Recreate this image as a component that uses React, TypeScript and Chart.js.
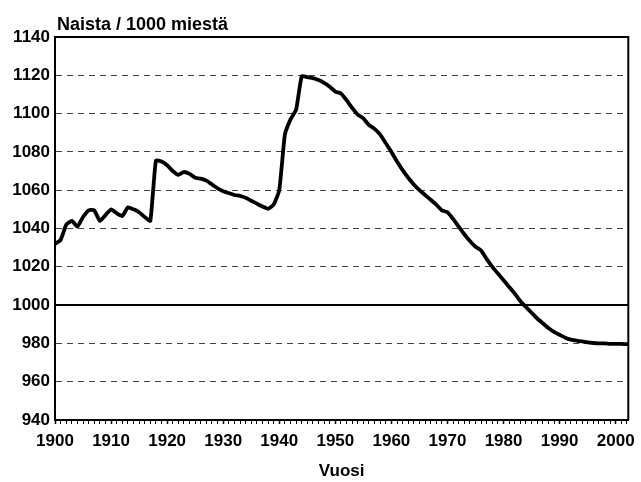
import { useEffect, useRef } from 'react';
import { Chart, registerables } from 'chart.js';

Chart.register(...registerables);

const FONT = '"Liberation Sans", Arial, sans-serif';

const chartTitle = 'Naista / 1000 miestä';
const xAxisTitle = 'Vuosi';

const years = [
  1900, 1901, 1902, 1903, 1904, 1905, 1906, 1907, 1908, 1909,
  1910, 1911, 1912, 1913, 1914, 1915, 1916, 1917, 1918, 1919,
  1920, 1921, 1922, 1923, 1924, 1925, 1926, 1927, 1928, 1929,
  1930, 1931, 1932, 1933, 1934, 1935, 1936, 1937, 1938, 1939,
  1940, 1941, 1942, 1943, 1944, 1945, 1946, 1947, 1948, 1949,
  1950, 1951, 1952, 1953, 1954, 1955, 1956, 1957, 1958, 1959,
  1960, 1961, 1962, 1963, 1964, 1965, 1966, 1967, 1968, 1969,
  1970, 1971, 1972, 1973, 1974, 1975, 1976, 1977, 1978, 1979,
  1980, 1981, 1982, 1983, 1984, 1985, 1986, 1987, 1988, 1989,
  1990, 1991, 1992, 1993, 1994, 1995, 1996, 1997, 1998, 1999,
  2000, 2001, 2002,
];

const womenPer1000Men = [
  1032, 1034, 1042, 1044, 1041, 1046, 1049.5, 1049.5, 1044, 1047,
  1050, 1048, 1046.5, 1051, 1050, 1048.5, 1046, 1044, 1075.5, 1075,
  1073, 1070, 1068, 1069.5, 1068.5, 1066.5, 1066, 1065, 1063, 1061,
  1059.5, 1058.5, 1057.5, 1057, 1056, 1054.5, 1053, 1051.5, 1050.3, 1052.5,
  1060, 1089, 1097, 1102, 1119.5, 1119, 1118.5, 1117.5, 1116, 1114,
  1111.5, 1110.5, 1107, 1103, 1099.5, 1097.5, 1094, 1092, 1089, 1084.5,
  1080, 1075, 1070.5, 1066.5, 1063, 1060, 1057.5, 1055, 1052.5, 1049.5,
  1048.5, 1045, 1041, 1037, 1033.5, 1030.5, 1028.5, 1024, 1020, 1016.5,
  1013, 1009.5, 1006, 1002, 999, 996, 993, 990.5, 988, 986,
  984.5, 983, 982, 981.5, 981, 980.5, 980.2, 980, 980, 979.8,
  979.8, 979.7, 979.6,
];

const yMin = 940;
const yMax = 1140;
const yStep = 20;
const referenceValue = 1000;
const xMin = 1900;
const xMax = 2002.25;
const xLabelStep = 10;

const framePlugin = {
  id: 'frameAndRef',
  beforeDatasetsDraw(chart: any) {
    const { ctx, chartArea } = chart;
    const { left, right, top, bottom } = chartArea;
    const yRef = chart.scales.y.getPixelForValue(referenceValue);
    ctx.save();
    ctx.strokeStyle = '#000';
    ctx.lineWidth = 2;
    ctx.beginPath();
    ctx.moveTo(left, yRef);
    ctx.lineTo(right, yRef);
    ctx.stroke();
    ctx.beginPath();
    ctx.moveTo(left, top);
    ctx.lineTo(right, top);
    ctx.lineTo(right, bottom);
    ctx.stroke();
    ctx.restore();
  },
  afterDraw(chart: any) {
    const { ctx, chartArea } = chart;
    ctx.save();
    ctx.fillStyle = '#000';
    ctx.font = `bold 18px ${FONT}`;
    ctx.textAlign = 'left';
    ctx.textBaseline = 'alphabetic';
    ctx.fillText(chartTitle, chartArea.left + 2, chartArea.top - 7.5);
    ctx.restore();
  },
};

export default function App() {
  const ref = useRef<HTMLCanvasElement | null>(null);

  useEffect(() => {
    if (!ref.current) return;
    const points = years.map((x, i) => ({ x, y: womenPer1000Men[i] }));
    const chart = new Chart(ref.current, {
      type: 'line',
      data: {
        datasets: [
          {
            data: points,
            borderColor: '#000',
            borderWidth: 3.8,
            pointRadius: 0,
            tension: 0.15,
            borderJoinStyle: 'round',
            borderCapStyle: 'round',
          },
        ],
      },
      options: {
        animation: false,
        responsive: false,
        layout: { padding: { left: 0, right: 12.7, top: 37, bottom: 0 } },
        plugins: { legend: { display: false }, tooltip: { enabled: false }, title: { display: false } },
        scales: {
          x: {
            type: 'linear',
            min: xMin,
            max: xMax,
            afterFit: (s: any) => { s.height = 62; },
            ticks: {
              stepSize: 1,
              autoSkip: false,
              includeBounds: false,
              maxRotation: 0,
              padding: 7,
              color: '#000',
              font: { family: FONT, size: 17, weight: 'bold' },
              callback: (v: any) => (Number(v) % xLabelStep === 0 ? String(v) : ''),
            },
            grid: {
              drawOnChartArea: false,
              drawTicks: true,
              tickLength: 4,
              tickColor: '#000',
              tickWidth: (c: any) => (c.tick && c.tick.value % xLabelStep === 0 ? 1.5 : 1),
            },
            border: { display: true, color: '#000', width: 2 },
            title: {
              display: true,
              text: xAxisTitle,
              color: '#000',
              font: { family: FONT, size: 17, weight: 'bold' },
              padding: { top: 0, bottom: 0 },
            },
          },
          y: {
            type: 'linear',
            min: yMin,
            max: yMax,
            afterFit: (s: any) => { s.width = 55; },
            ticks: {
              stepSize: yStep,
              padding: 5,
              color: '#000',
              font: { family: FONT, size: 17, weight: 'bold' },
              callback: (v: any) => String(v),
            },
            grid: {
              drawTicks: false,
              lineWidth: 1,
              color: (c: any) => {
                const v = c.tick ? c.tick.value : null;
                return v === yMin || v === yMax || v === referenceValue ? 'rgba(0,0,0,0)' : '#444';
              },
            },
            border: { display: true, color: '#000', width: 2, dash: [6, 5] },
          },
        },
      },
      plugins: [framePlugin],
    } as any);
    return () => chart.destroy();
  }, []);

  return (
    <div style={{ position: 'absolute', left: 0, top: 0, width: 641, height: 482, background: '#fff' }}>
      <canvas ref={ref} width={641} height={482} />
    </div>
  );
}
